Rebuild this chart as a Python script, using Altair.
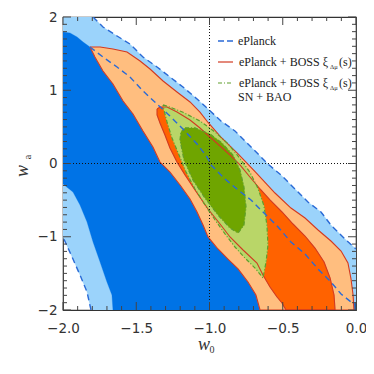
import altair as alt
import pandas as pd

# ---------------- contour vertices (w0, wa) ----------------
ep95_w0 = [-2.0, -1.795, -1.727, -1.631, -1.543, -1.454, -1.358, -1.270, -1.181, -1.085,
           -1.010, -0.922, -0.826, -0.737, -0.648, -0.601, -0.512, -0.416, -0.328, -0.239,
           -0.171, -0.075, 0.0, 0.0, -1.809, -1.836, -1.884, -1.932, -2.0]
ep95_wa = [2.0, 2.0, 1.863, 1.741, 1.631, 1.454, 1.317, 1.181, 1.044, 0.881,
           0.744, 0.580, 0.444, 0.266, 0.089, -0.007, -0.157, -0.348, -0.526, -0.662,
           -0.840, -1.031, -1.167, -2.0, -2.0, -1.754, -1.522, -1.304, -1.003]

ep68_w0 = [-2.0, -1.952, -1.904, -1.863, -1.816, -1.727, -1.631, -1.543, -1.454, -1.358,
           -1.270, -1.181, -1.085, -1.017, -0.990, -0.894, -0.805, -0.717, -0.621, -0.532,
           -0.444, -0.348, -0.259, -0.171, -0.102, -0.034, 0.0, 0.0, -1.659, -1.666,
           -1.700, -1.747, -1.795, -1.836, -1.884, -1.932, -2.0]
ep68_wa = [1.795, 1.782, 1.727, 1.659, 1.590, 1.454, 1.317, 1.181, 0.990, 0.812,
           0.648, 0.471, 0.266, 0.089, -0.020, -0.212, -0.362, -0.498, -0.689, -0.867,
           -1.072, -1.235, -1.440, -1.618, -1.782, -1.891, -1.918, -2.0, -2.0, -1.795,
           -1.618, -1.345, -1.072, -0.799, -0.567, -0.389, -0.280]

boss95_w0 = [-1.816, -1.747, -1.659, -1.563, -1.474, -1.406, -1.317, -1.222, -1.133, -1.065,
             -1.010, -0.922, -0.805, -0.689, -0.553, -0.444, -0.348, -0.259, -0.171, -0.102,
             -0.055, -0.034, -0.020, -0.014, -0.655, -0.683, -0.737, -0.805, -0.874, -0.942,
             -1.010, -1.044, -1.085, -1.133, -1.201, -1.270, -1.338, -1.386, -1.454, -1.522,
             -1.590, -1.659, -1.727, -1.782, -1.802]
boss95_wa = [1.590, 1.590, 1.563, 1.522, 1.399, 1.290, 1.126, 0.976, 0.840, 0.700,
             0.560, 0.360, 0.130, -0.110, -0.403, -0.608, -0.744, -0.908, -1.058, -1.195,
             -1.358, -1.577, -1.795, -2.0, -2.0, -1.795, -1.618, -1.440, -1.304, -1.167,
             -1.003, -0.840, -0.662, -0.485, -0.294, -0.116, 0.020, 0.225, 0.444, 0.676,
             0.853, 1.085, 1.263, 1.454, 1.536]

boss68_w0 = [-1.358, -1.338, -1.290, -1.222, -1.133, -1.065, -0.997, -0.928, -0.860, -0.792,
             -0.724, -0.655, -0.587, -0.505, -0.430, -0.348, -0.280, -0.218, -0.177, -0.150,
             -0.143, -0.478, -0.505, -0.539, -0.587, -0.635, -0.676, -0.771, -0.860, -0.928,
             -1.010, -1.099, -1.167, -1.222, -1.270, -1.304, -1.338, -1.358]
boss68_wa = [0.744, 0.771, 0.771, 0.703, 0.594, 0.485, 0.362, 0.239, 0.116, -0.020,
             -0.184, -0.348, -0.498, -0.662, -0.826, -0.990, -1.154, -1.345, -1.563, -1.795,
             -2.0, -2.0, -1.904, -1.823, -1.686, -1.522, -1.358, -1.181, -1.003, -0.826,
             -0.621, -0.362, -0.157, 0.020, 0.212, 0.389, 0.553, 0.662]

all95_w0 = [-1.317, -1.270, -1.181, -1.065, -0.962, -0.874, -0.792, -0.724, -0.669, -0.628,
            -0.608, -0.601, -0.614, -0.635, -0.689, -0.758, -0.826, -0.894, -0.962, -1.031,
            -1.099, -1.160, -1.208, -1.256, -1.290, -1.311]
all95_wa = [0.800, 0.770, 0.700, 0.580, 0.430, 0.270, 0.070, -0.120, -0.340, -0.580,
            -0.840, -1.113, -1.345, -1.563, -1.427, -1.290, -1.140, -0.962, -0.771, -0.567,
            -0.348, -0.116, 0.116, 0.348, 0.567, 0.730]

all68_w0 = [-1.167, -1.099, -0.997, -0.915, -0.840, -0.792, -0.765, -0.751, -0.765, -0.805,
            -0.860, -0.942, -1.031, -1.113, -1.174, -1.201, -1.195]
all68_wa = [0.485, 0.485, 0.403, 0.280, 0.116, -0.089, -0.321, -0.594, -0.840, -0.949,
            -0.881, -0.703, -0.471, -0.225, 0.048, 0.321, 0.430]

# axes ticks
x_major = [-2.0, -1.5, -1.0, -0.5, 0.0]
x_minor = [-1.9, -1.8, -1.7, -1.6, -1.4, -1.3, -1.2, -1.1, -0.9, -0.8, -0.7, -0.6,
           -0.4, -0.3, -0.2, -0.1]
y_major = [-2, -1, 0, 1, 2]
y_minor = [-1.9, -1.8, -1.7, -1.6, -1.5, -1.4, -1.3, -1.2, -1.1, -0.9, -0.8, -0.7, -0.6,
           -0.5, -0.4, -0.3, -0.2, -0.1, 0.1, 0.2, 0.3, 0.4, 0.5, 0.6, 0.7, 0.8, 0.9,
           1.1, 1.2, 1.3, 1.4, 1.5, 1.6, 1.7, 1.8, 1.9]
cross_w0 = [-1.0]
cross_wa = [0.0]

legend_labels = ["ePlanck", "ePlanck + BOSS ξ", "ePlanck + BOSS ξ", "SN + BAO"]

# ---------------- styles ----------------
W = H = 293
C_LB, C_DB, C_BLINE = "#9BD3FB", "#0073E6", "#2A6AD6"
C_LO, C_DO, C_RED = "#FFBE7F", "#FF6200", "#D23A22"
C_LG, C_DG, C_GLINE = "#B9D668", "#6FA500", "#5E9E2C"

xs = alt.Scale(domain=[-2, 0], nice=False, zero=False)
ys = alt.Scale(domain=[-2, 2], nice=False, zero=False)
XAX = alt.Axis(values=x_major, format=".1f", ticks=False, domain=False, grid=False, title=None,
               labelFont="DejaVu Sans", labelFontSize=13.5, labelPadding=11, labelColor="#333",
               labelFlush=False)
YAX = alt.Axis(values=y_major, format="d", ticks=False, domain=False, grid=False, title=None,
               labelFont="DejaVu Sans", labelFontSize=13.5, labelPadding=6, labelColor="#333")
X = alt.X("w0:Q", scale=xs, axis=XAX)
Y = alt.Y("wa:Q", scale=ys, axis=YAX)


def poly(xv, yv, close=True):
    xv, yv = list(xv), list(yv)
    if close:
        xv, yv = xv + [xv[0]], yv + [yv[0]]
    return pd.DataFrame({"w0": xv, "wa": yv, "i": list(range(len(xv)))})


def fill(xv, yv, color):
    return alt.Chart(poly(xv, yv)).mark_line(fill=color, stroke=color, strokeWidth=0.3,
                                             clip=True).encode(x=X, y=Y, order="i:Q")


def outline(df, color, dash, width):
    kw = dict(color=color, strokeWidth=width, clip=True)
    if dash:
        kw["strokeDash"] = dash
    return alt.Chart(df).mark_line(**kw).encode(x=X, y=Y, order="i:Q")


layers = [
    fill(ep95_w0, ep95_wa, C_LB),
    fill(ep68_w0, ep68_wa, C_DB),
    fill(boss95_w0, boss95_wa, C_LO),
    fill(boss68_w0, boss68_wa, C_DO),
    fill(all95_w0, all95_wa, C_LG),
    fill(all68_w0, all68_wa, C_DG),
]

# crosshair
layers.append(alt.Chart(pd.DataFrame({"w0": cross_w0})).mark_rule(
    color="#111", strokeDash=[1, 2], strokeWidth=1).encode(x=X))
layers.append(alt.Chart(pd.DataFrame({"wa": cross_wa})).mark_rule(
    color="#111", strokeDash=[1, 2], strokeWidth=1).encode(y=Y))

# contour lines
layers += [
    outline(poly(boss95_w0, boss95_wa), C_RED, None, 1.1),
    outline(poly(boss68_w0, boss68_wa), C_RED, None, 1.1),
    outline(poly(all95_w0, all95_wa), C_GLINE, [4, 2, 1, 2], 1.2),
    outline(poly(all68_w0, all68_wa), C_GLINE, [4, 2, 1, 2], 1.2),
    outline(poly(ep95_w0[1:23], ep95_wa[1:23], close=False), C_BLINE, [6, 4], 1.4),
    outline(poly(ep95_w0[24:29], ep95_wa[24:29], close=False), C_BLINE, [6, 4], 1.4),
    outline(poly(ep68_w0[4:27], ep68_wa[4:27], close=False), C_BLINE, [6, 4], 1.4),
]

# inward ticks on all four sides
TC = "#444"
for vals, L in ((x_major, 8), (x_minor, 4)):
    d = pd.DataFrame({"w0": vals})
    layers.append(alt.Chart(d).mark_rule(color=TC, strokeWidth=1).encode(
        x=X, y=alt.value(H), y2=alt.value(H - L)))
    layers.append(alt.Chart(d).mark_rule(color=TC, strokeWidth=1).encode(
        x=X, y=alt.value(0), y2=alt.value(L)))
for vals, L in ((y_major, 8), (y_minor, 4)):
    d = pd.DataFrame({"wa": vals})
    layers.append(alt.Chart(d).mark_rule(color=TC, strokeWidth=1).encode(
        y=Y, x=alt.value(0), x2=alt.value(L)))
    layers.append(alt.Chart(d).mark_rule(color=TC, strokeWidth=1).encode(
        y=Y, x=alt.value(W), x2=alt.value(W - L)))

# legend
one = pd.DataFrame({"k": [0]})
LX0, LX1, TX = 155, 170, 175
Y1, Y2, Y3, Y4 = 24, 45, 66, 80
layers.append(alt.Chart(one).mark_rule(color=C_BLINE, strokeWidth=1.4, strokeDash=[6, 3]).encode(
    x=alt.value(LX0), x2=alt.value(LX1), y=alt.value(Y1)))
layers.append(alt.Chart(one).mark_rule(color=C_RED, strokeWidth=1.2).encode(
    x=alt.value(LX0), x2=alt.value(LX1), y=alt.value(Y2)))
layers.append(alt.Chart(one).mark_rule(color=C_GLINE, strokeWidth=1.2, strokeDash=[4, 2, 1, 2]).encode(
    x=alt.value(LX0), x2=alt.value(LX1), y=alt.value(Y3)))

TXT = dict(font="Liberation Serif", fontSize=12, color="#222", baseline="middle")
for lab, yy in ((legend_labels[0], Y1), (legend_labels[3], Y4)):
    layers.append(alt.Chart(one).mark_text(text=lab, align="left", **TXT).encode(
        x=alt.value(TX), y=alt.value(yy)))
for lab, yy in ((legend_labels[1], Y2), (legend_labels[2], Y3)):
    layers.append(alt.Chart(one).mark_text(text=lab, align="right", **TXT).encode(
        x=alt.value(265), y=alt.value(yy)))
    layers.append(alt.Chart(one).mark_text(text="Δμ", font="Liberation Serif", fontSize=6.5, color="#222",
                                           align="left", baseline="top").encode(
        x=alt.value(267), y=alt.value(yy + 2)))
    layers.append(alt.Chart(one).mark_text(text="(s)", align="left", **TXT).encode(
        x=alt.value(276), y=alt.value(yy)))

# axis titles
TT = dict(font="Liberation Serif", fontStyle="italic", color="#333")
layers.append(alt.Chart(one).mark_text(text="w", fontSize=18, align="center", baseline="alphabetic", **TT).encode(
    x=alt.value(141), y=alt.value(333)))
layers.append(alt.Chart(one).mark_text(text="0", fontSize=10, align="center", baseline="alphabetic",
                                       font="Liberation Serif", color="#333").encode(
    x=alt.value(149), y=alt.value(336)))
layers.append(alt.Chart(one).mark_text(text="w", fontSize=18, angle=270, align="center", baseline="alphabetic", **TT).encode(
    x=alt.value(-35), y=alt.value(154)))
layers.append(alt.Chart(one).mark_text(text="a", fontSize=10, angle=270, align="center", baseline="alphabetic",
                                       font="Liberation Serif", color="#333").encode(
    x=alt.value(-32), y=alt.value(140)))

chart = alt.layer(*layers).properties(
    width=W, height=H,
    autosize=alt.AutoSizeParams(type="none"),
    padding={"left": 55, "top": 9, "right": 10, "bottom": 50},
).configure_view(stroke="#333", strokeWidth=1.2)

chart.save("out.html", embed_options={"renderer": "svg", "actions": False})
